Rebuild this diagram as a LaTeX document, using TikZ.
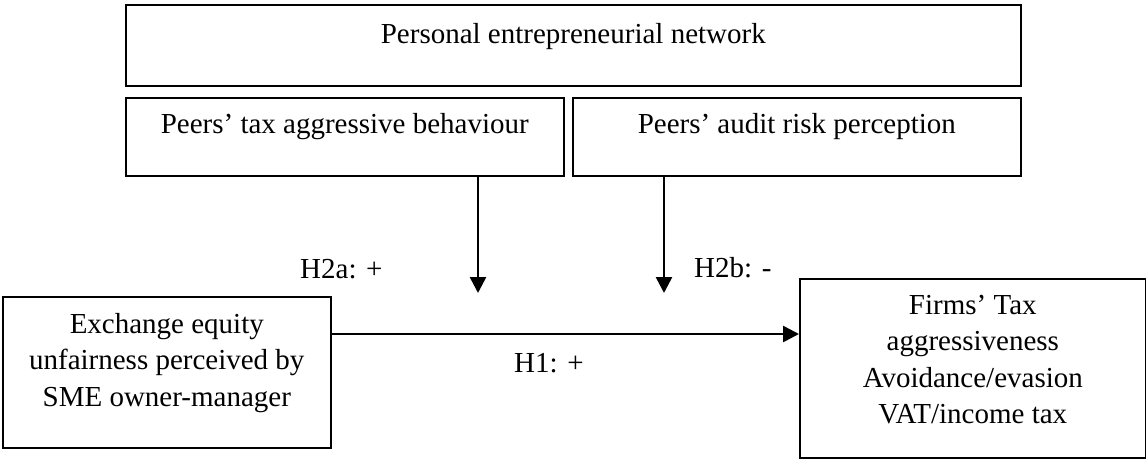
\documentclass[tikz,border=0pt]{standalone}
\usepackage{fontspec}
\setmainfont{Liberation Serif}
\usetikzlibrary{arrows.meta}
\begin{document}
\begin{tikzpicture}[x=1pt,y=-1pt,
  box/.style={draw=black,line width=1.6pt,inner sep=0pt,anchor=north west},
  txt/.style={inner sep=0pt,align=center,font=\fontsize{29}{36.5}\selectfont},
  lbl/.style={inner sep=0pt,anchor=base west,font=\fontsize{29}{36.5}\selectfont},
  link/.style={line width=2.6pt,-{Triangle[length=16pt,width=16pt]}}]
\useasboundingbox (0,0) rectangle (1146,458);
% boxes
\node[box,minimum width=895pt,minimum height=81pt] (net) at (125,4) {};
\node[box,minimum width=438pt,minimum height=78pt] (beh) at (125,97) {};
\node[box,minimum width=448pt,minimum height=78pt] (aud) at (572,97) {};
\node[box,minimum width=328pt,minimum height=151pt] (exc) at (2,296) {};
\node[box,minimum width=346pt,minimum height=179pt] (tax) at (799,278) {};
% box texts, set at the top of each box
\node[txt,anchor=base] (netT) at ([yshift=-39pt]net.north) {Personal entrepreneurial network};
\node[txt,anchor=base] (behT) at ([yshift=-36pt]beh.north) {Peers’ tax aggressive behaviour};
\node[txt,anchor=base] (audT) at ([yshift=-36pt]aud.north) {Peers’ audit risk perception};
\node[txt,anchor=north] (excT) at ([yshift=-17pt]exc.north) {Exchange equity\\unfairness perceived by\\SME owner-manager};
\node[txt,anchor=north] (taxT) at ([yshift=-17pt]tax.north) {Firms’ Tax\\aggressiveness\\Avoidance/evasion\\VAT/income tax};
% moderating effects
\coordinate (endA) at (478,293);
\coordinate (endB) at (664,293);
\draw[link] (beh.south -| endA) -- (endA);
\draw[link] (aud.south -| endB) -- (endB);
% main effect
\draw[link] (exc.east |- 0,334) -- (tax.west |- 0,334);
% hypothesis labels
\node[lbl] (h2a) at (300,278) {H2a: +};
\node[lbl] (h2b) at (694,277) {H2b: -};
\node[lbl] (h1) at (514,372) {H1: +};
\end{tikzpicture}
\end{document}
